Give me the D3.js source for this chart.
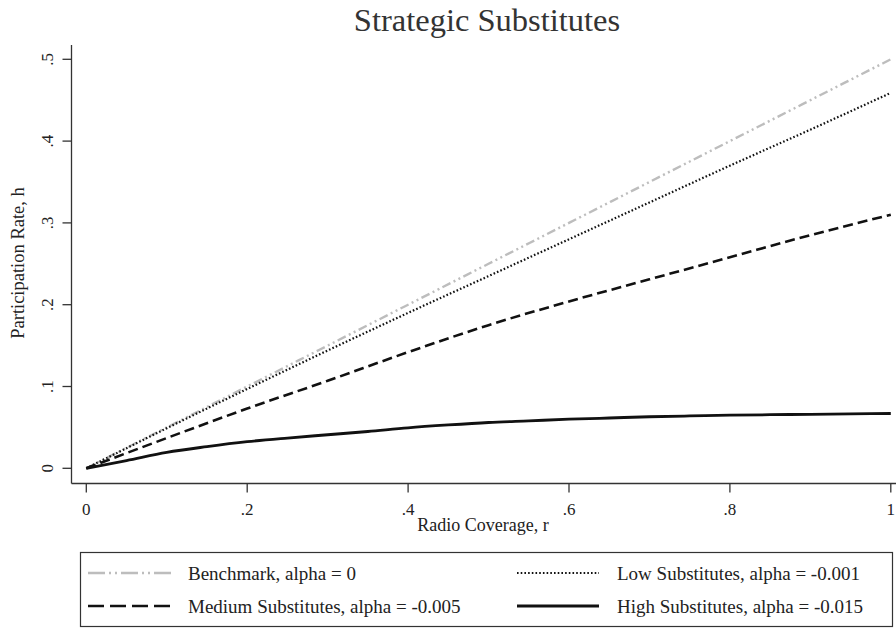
<!DOCTYPE html>
<html>
<head>
<meta charset="utf-8">
<script src="https://cdn.jsdelivr.net/npm/d3@7"></script>
<style>
  html, body { margin: 0; padding: 0; background: #fff; }
  svg text { font-family: "Liberation Serif", "Times New Roman", "DejaVu Serif", serif; }
</style>
</head>
<body>
<svg id="chart" width="896" height="628"></svg>
<script>
// Radio coverage grid (r) and participation rate (h) for each alpha
const coverage = [0, 0.1, 0.2, 0.3, 0.4, 0.5, 0.6, 0.7, 0.8, 0.9, 1.0];
const benchmark = [0, 0.05, 0.10, 0.15, 0.20, 0.25, 0.30, 0.35, 0.40, 0.45, 0.50];
const lowSubs = [0, 0.049, 0.097, 0.144, 0.190, 0.235, 0.280, 0.325, 0.370, 0.414, 0.459];
const mediumSubs = [0, 0.037, 0.073, 0.107, 0.142, 0.175, 0.204, 0.231, 0.258, 0.285, 0.310];
const coverageFine = [0, 0.05, 0.1, 0.15, 0.2, 0.25, 0.3, 0.35, 0.4, 0.45, 0.5,
                      0.55, 0.6, 0.65, 0.7, 0.75, 0.8, 0.85, 0.9, 0.95, 1.0];
const highSubs = [0, 0.0095, 0.0195, 0.0265, 0.0325, 0.037, 0.041, 0.045, 0.0495, 0.053, 0.056,
                  0.058, 0.060, 0.0615, 0.063, 0.064, 0.065, 0.0655, 0.066, 0.0665, 0.067];

const seriesNames = ["Benchmark, alpha = 0", "Low Substitutes, alpha = -0.001",
                     "Medium Substitutes, alpha = -0.005", "High Substitutes, alpha = -0.015"];
const xTicks = [0, 0.2, 0.4, 0.6, 0.8, 1];
const xTickLabels = ["0", ".2", ".4", ".6", ".8", "1"];
const yTicks = [0, 0.1, 0.2, 0.3, 0.4, 0.5];
const yTickLabels = ["0", ".1", ".2", ".3", ".4", ".5"];

const svg = d3.select("#chart");
const ink = "#222";

const x = d3.scaleLinear().domain([0, 1]).range([86.3, 890.8]);
const y = d3.scaleLinear().domain([0, 0.5]).range([468.3, 59.3]);

// Axis frame (left and bottom only)
const frameLeft = 71.5, frameBottom = 483.5, frameTop = 45, frameRight = 896;

const series = [
  { name: seriesNames[0], xs: coverage, ys: benchmark, color: "#bdbdbd", width: 2.4,
    dash: "9,3.5,2,3.5,2,3.5", legendDash: "17,4,2,4,2,4" },
  { name: seriesNames[1], xs: coverage, ys: lowSubs, color: "#111", width: 2.2,
    dash: "1.6,2.1", legendDash: "1.6,2.1" },
  { name: seriesNames[2], xs: coverage, ys: mediumSubs, color: "#111", width: 2.6,
    dash: "10,5", legendDash: "16,6" },
  { name: seriesNames[3], xs: coverageFine, ys: highSubs, color: "#111", width: 2.8,
    dash: null, legendDash: null }
];

// Title
svg.append("text")
  .attr("x", 487).attr("y", 31)
  .attr("text-anchor", "middle")
  .attr("font-size", 32.5)
  .attr("fill", "#333")
  .text("Strategic Substitutes");

// Y axis
const gy = svg.append("g");
gy.append("line")
  .attr("x1", frameLeft).attr("x2", frameLeft)
  .attr("y1", frameTop).attr("y2", frameBottom)
  .attr("stroke", "#333").attr("stroke-width", 1.3);
yTicks.forEach((t, i) => {
  gy.append("line")
    .attr("x1", frameLeft - 9).attr("x2", frameLeft)
    .attr("y1", y(t)).attr("y2", y(t))
    .attr("stroke", "#333").attr("stroke-width", 1.3);
  gy.append("text")
    .attr("transform", `translate(53,${y(t)}) rotate(-90)`)
    .attr("text-anchor", "middle")
    .attr("font-size", 17)
    .attr("fill", ink)
    .text(yTickLabels[i]);
});
svg.append("text")
  .attr("transform", `translate(24,263) rotate(-90)`)
  .attr("text-anchor", "middle")
  .attr("font-size", 18.5)
  .attr("fill", ink)
  .text("Participation Rate, h");

// X axis
const gx = svg.append("g");
gx.append("line")
  .attr("x1", frameLeft).attr("x2", frameRight)
  .attr("y1", frameBottom).attr("y2", frameBottom)
  .attr("stroke", "#333").attr("stroke-width", 1.3);
xTicks.forEach((t, i) => {
  gx.append("line")
    .attr("x1", x(t)).attr("x2", x(t))
    .attr("y1", frameBottom).attr("y2", frameBottom + 9)
    .attr("stroke", "#333").attr("stroke-width", 1.3);
  gx.append("text")
    .attr("x", x(t)).attr("y", 515)
    .attr("text-anchor", "middle")
    .attr("font-size", 17)
    .attr("fill", ink)
    .text(xTickLabels[i]);
});
svg.append("text")
  .attr("x", 483).attr("y", 531)
  .attr("text-anchor", "middle")
  .attr("font-size", 18)
  .attr("fill", ink)
  .text("Radio Coverage, r");

// Lines
const line = d3.line()
  .x(d => x(d[0]))
  .y(d => y(d[1]))
  .curve(d3.curveMonotoneX);

series.forEach(s => {
  svg.append("path")
    .datum(s.xs.map((v, i) => [v, s.ys[i]]))
    .attr("d", line)
    .attr("fill", "none")
    .attr("stroke", s.color)
    .attr("stroke-width", s.width)
    .attr("stroke-dasharray", s.dash)
    .attr("stroke-linejoin", "round");
});

// Legend
const legend = svg.append("g");
legend.append("rect")
  .attr("x", 80.5).attr("y", 552.5)
  .attr("width", 812).attr("height", 74)
  .attr("fill", "#fff")
  .attr("stroke", "#333").attr("stroke-width", 1.2);

const legendSlots = [
  { x0: 88, x1: 172, tx: 188, ty: 573 },
  { x0: 517, x1: 599, tx: 617, ty: 573 },
  { x0: 88, x1: 172, tx: 188, ty: 606 },
  { x0: 517, x1: 599, tx: 617, ty: 606 }
];
series.forEach((s, i) => {
  const slot = legendSlots[i];
  legend.append("line")
    .attr("x1", slot.x0).attr("x2", slot.x1)
    .attr("y1", slot.ty).attr("y2", slot.ty)
    .attr("stroke", s.color)
    .attr("stroke-width", s.width)
    .attr("stroke-dasharray", s.legendDash);
  legend.append("text")
    .attr("x", slot.tx).attr("y", slot.ty)
    .attr("dy", "0.35em")
    .attr("font-size", 19)
    .attr("fill", ink)
    .text(s.name);
});
</script>
</body>
</html>
